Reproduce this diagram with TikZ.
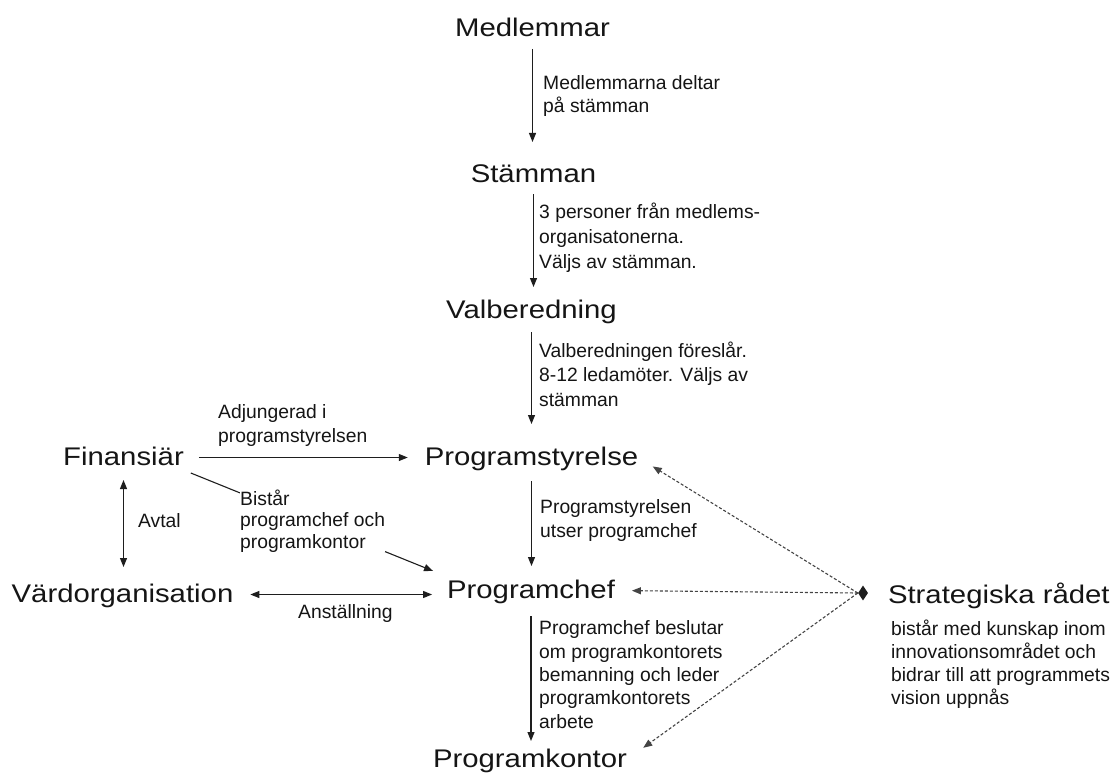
\documentclass[tikz,border=0pt]{standalone}
\usepackage{fontspec}
\setmainfont{Liberation Sans}
\newfontfamily\bigfnt[FakeStretch=1.15]{Liberation Sans}
\usetikzlibrary{arrows.meta,shapes.geometric,calc}
\definecolor{txt}{HTML}{151515}
\definecolor{ln}{HTML}{1E1E1E}
\definecolor{dl}{HTML}{444444}
\begin{document}
\begin{tikzpicture}[x=1pt,y=-1pt,
  big/.style={font=\bigfnt\fontsize{25.5}{30}\selectfont, text=txt, inner sep=0pt, outer sep=0pt, text height=20pt, text depth=5pt, anchor=base},
  lab/.style={font=\fontsize{19.3}{23.5}\selectfont, text=txt, inner sep=0pt, align=left, anchor=base west},
  arr/.style={draw=ln, line width=1.1pt, -{Triangle[length=9pt,width=7pt]}},
  darr/.style={draw=ln, line width=1.1pt, {Triangle[length=9pt,width=7pt]}-{Triangle[length=9pt,width=7pt]}},
  dsh/.style={draw=dl, line width=1.1pt, dash pattern=on 3pt off 2pt, -{Triangle[length=9pt,width=7pt]}}
]
\path[use as bounding box, fill=white] (0,0) rectangle (1116,773);

% main nodes
\node[big] (med) at (532.5,37) {Medlemmar};
\node[big] (sta) at (533.5,182) {Stämman};
\node[big] (val) at (531.5,318) {Valberedning};
\node[big] (ps)  at (531.5,465) {Programstyrelse};
\node[big] (pc)  at (531,598) {Programchef};
\node[big] (pk)  at (530,767) {Programkontor};
\node[big] (fin) at (123.5,465) {Finansiär};
\node[big] (vo)  at (122.5,602) {Värdorganisation};
\node[big, anchor=base west] (sr) at (888,603) {Strategiska rådet};
\node[diamond, fill=ln, inner sep=0pt, minimum width=10pt, minimum height=15pt] (sp) at (863,593) {};

% labels (base = baseline of last line)
\node[lab, font=\fontsize{19.3}{22.5}\selectfont] (l1) at (543,112.5) {Medlemmarna deltar\\på stämman};
\node[lab, font=\fontsize{19.3}{25}\selectfont] (l2) at (539,268) {3 personer från medlems-\\organisatonerna.\\Väljs av stämman.};
\node[lab, font=\fontsize{19.3}{24.5}\selectfont] (l3) at (539,406) {Valberedningen föreslår.\\8-12 ledamöter. Väljs av\\stämman};
\node[lab, font=\fontsize{19.3}{24}\selectfont] (l4) at (540,537) {Programstyrelsen\\utser programchef};
\node[lab, font=\fontsize{19.3}{23.3}\selectfont] (l5) at (539,728) {Programchef beslutar\\om programkontorets\\bemanning och leder\\programkontorets\\arbete};
\node[lab, font=\fontsize{19.3}{24}\selectfont] (ladj) at (218,442) {Adjungerad i\\programstyrelsen};
\node[lab] (lav) at (138,527) {Avtal};
\node[lab] (lan) at (298,618) {Anställning};
\node[lab, font=\fontsize{19.3}{23}\selectfont] (lsr) at (891,704) {bistår med kunskap inom\\innovationsområdet och\\bidrar till att programmets\\vision uppnås};

% vertical chain
\draw[arr, shorten <=7pt, shorten >=20pt] (med.south) -- (med.south |- sta.north);
\draw[arr, shorten <=7pt, shorten >=11pt] (sta.south) -- (sta.south |- val.north);
\draw[arr, shorten <=9pt, shorten >=21pt] (val.south) -- (val.south |- ps.north);
\draw[arr, shorten <=11pt, shorten >=12pt] (ps.south) -- (ps.south |- pc.north);
\draw[arr, shorten <=13pt, shorten >=6pt] (pc.south) -- (pc.south |- pk.north);

% left side
\draw[arr, shorten <=15pt, shorten >=17pt] (fin.east) -- (fin.east -| ps.west);
\draw[darr, shorten <=10pt, shorten >=15pt] (fin.south) -- (fin.south |- vo.north);
\draw[darr, shorten <=17pt, shorten >=15pt] (vo.east) -- (vo.east -| pc.west);
\draw[arr] ($(fin.south east)+(7,3)$) -- ($(pc.west)+(-14,-19.5)$);
\node[lab, fill=white, font=\fontsize{19.3}{21.5}\selectfont] (lbi) at (240,548) {Bistår\\programchef och\\programkontor};

% dashed from Strategiska rådet
\draw[dsh, shorten >=17pt] (sp.west) -- (ps.east);
\draw[dsh, shorten >=17pt] (sp.west) -- (pc.east);
\draw[dsh, shorten >=20pt] (sp.west) -- (pk.east);
\end{tikzpicture}
\end{document}
